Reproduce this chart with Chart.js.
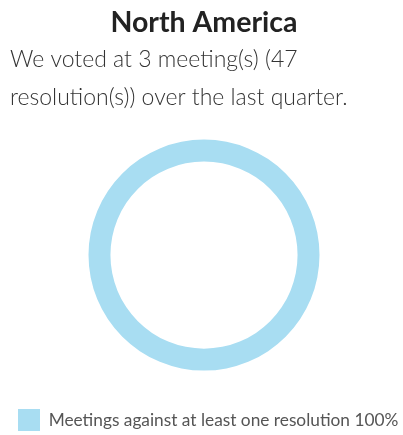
<!DOCTYPE html>
<html>
<head>
<meta charset="utf-8">
<script src="https://cdn.jsdelivr.net/npm/chart.js@4"></script>
<style>
  html, body { margin: 0; padding: 0; background: #fff; overflow: hidden; }
  #wrap { width: 403px; height: 441px; }
</style>
</head>
<body>
<div id="wrap"><canvas id="regionChart"></canvas></div>
<script>
const regionName = "North America"
const summaryLines = ["We voted at 3 meeting(s) (47", "resolution(s)) over the last quarter."]
const categories = ["Meetings against at least one resolution 100%"]
const shares = [100]
const sliceColors = ["#a8ddf2"]

function renderRegionChart(canvasId) {
    const target = document.getElementById(canvasId)
    if (!target) return null

    return new Chart(target, {
        type: "doughnut",
        data: {
            labels: categories,
            datasets: [{
                data: shares,
                backgroundColor: sliceColors,
                borderWidth: 0
            }]
        },
        options: {
            responsive: true,
            maintainAspectRatio: false,
            animation: false,
            radius: 115.5,
            cutout: "81%",
            layout: {
                padding: { left: 10, right: 5, top: 0, bottom: 0 }
            },
            plugins: {
                title: {
                    display: true,
                    text: regionName,
                    color: "#222",
                    font: { family: "Lato", size: 28.5, weight: "bold", lineHeight: 1.2 },
                    padding: { top: 6, bottom: 0 }
                },
                subtitle: {
                    display: true,
                    text: summaryLines,
                    align: "start",
                    color: "#333",
                    font: { family: "Lato", size: 23, weight: "300", lineHeight: 1.652 },
                    padding: { top: 0, bottom: -7 }
                },
                legend: {
                    position: "bottom",
                    align: "start",
                    labels: {
                        boxWidth: 22,
                        boxHeight: 22,
                        padding: 8,
                        color: "#555",
                        font: { family: "Lato", size: 17.3 }
                    }
                },
                tooltip: { enabled: false }
            }
        }
    })
}

renderRegionChart("regionChart")
</script>
</body>
</html>
